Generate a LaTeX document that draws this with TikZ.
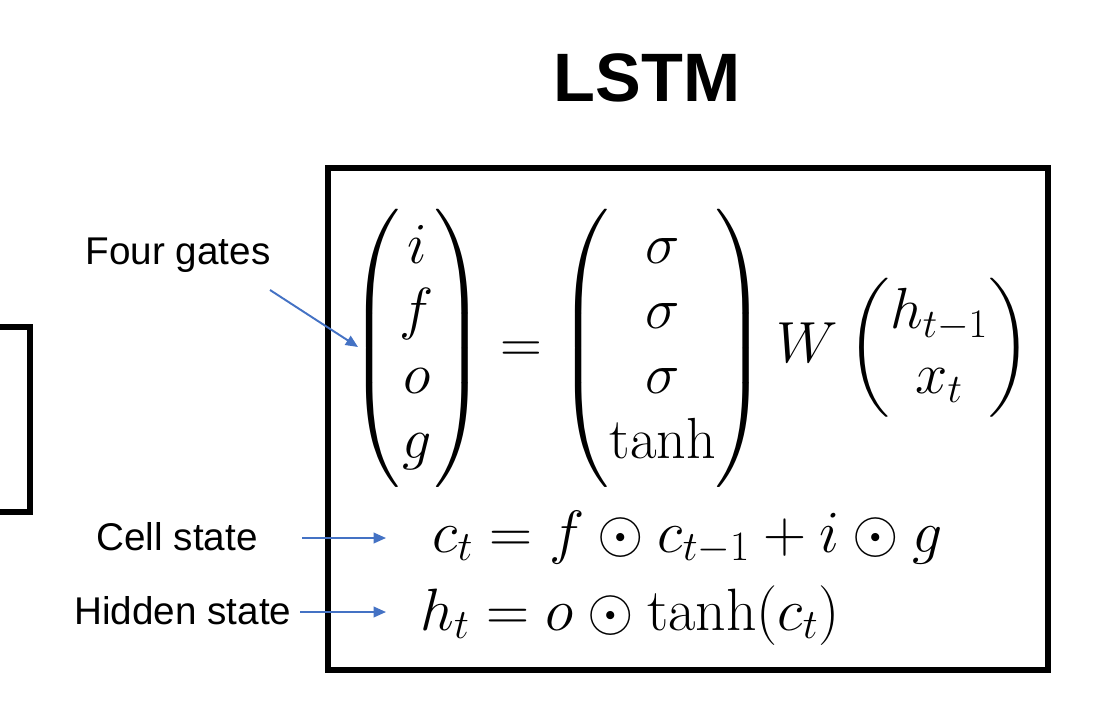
\documentclass[tikz,border=0pt]{standalone}
\usepackage{fix-cm}
\usepackage{amsmath,amssymb}
\usepackage{fontspec}
\usepackage{tikz}
\usetikzlibrary{arrows.meta}
\newfontfamily\labelfont{Liberation Sans}

\begin{document}
\begin{tikzpicture}[x=0.02cm,y=-0.02cm]
			\def\eqsize{\fontsize{34}{36}\selectfont}
			\def\gatesize{\fontsize{33}{37}\selectfont}
			\definecolor{arrowblue}{HTML}{4472C4}
			\tikzset{
				frame/.style={line width=3.4pt},
				tag/.style={font=\labelfont\fontsize{22}{26}\selectfont},
				pointer/.style={draw=arrowblue,line width=1.1pt,-{Triangle[length=7pt,width=6pt]}},
			}
			
			\clip (0,0) rectangle (1097,709);
			
			\node[font=\labelfont\bfseries\fontsize{39}{46}\selectfont] (title) at (647,78) {LSTM};
			
			\draw[frame] (-10,327) -- (30,327) -- (30,512) -- (-10,512);
			\draw[frame] (328,168) rectangle (1048,670);
			
			\node[inner sep=0pt] (gates) at (690,348)
			{\gatesize$\begin{pmatrix} i\\ f\\ o\\ g \end{pmatrix}
				=\begin{pmatrix} \sigma\\ \sigma\\ \sigma\\ \tanh \end{pmatrix}
				W\begin{pmatrix} h_{t-1}\\ x_t \end{pmatrix}$};
			\node[inner sep=0pt,anchor=base west] (cell) at (432,552)
			{\eqsize$c_t = f\odot c_{t-1} + i\odot g$};
			\node[inner sep=0pt,anchor=base west] (hidden) at (420,630)
			{\eqsize$h_t = o\odot \tanh(c_t)$};
			
			\node[tag] (gatestag) at (178,255) {Four gates};
			\node[tag] (celltag) at (177,537) {Cell state};
			\node[tag] (hiddentag) at (183,611) {Hidden state};
			
			\coordinate (gatesA) at (270,290);
			\coordinate (gatesB) at (358,347);
			\coordinate (cellA) at (302,538);
			\coordinate (cellB) at (386,538);
			\coordinate (hiddenA) at (300,612);
			\coordinate (hiddenB) at (386,612);
			
			\draw[pointer] (gatesA) -- (gatesB);
			\draw[pointer] (cellA) -- (cellB);
			\draw[pointer] (hiddenA) -- (hiddenB);
		\end{tikzpicture}
\end{document}
